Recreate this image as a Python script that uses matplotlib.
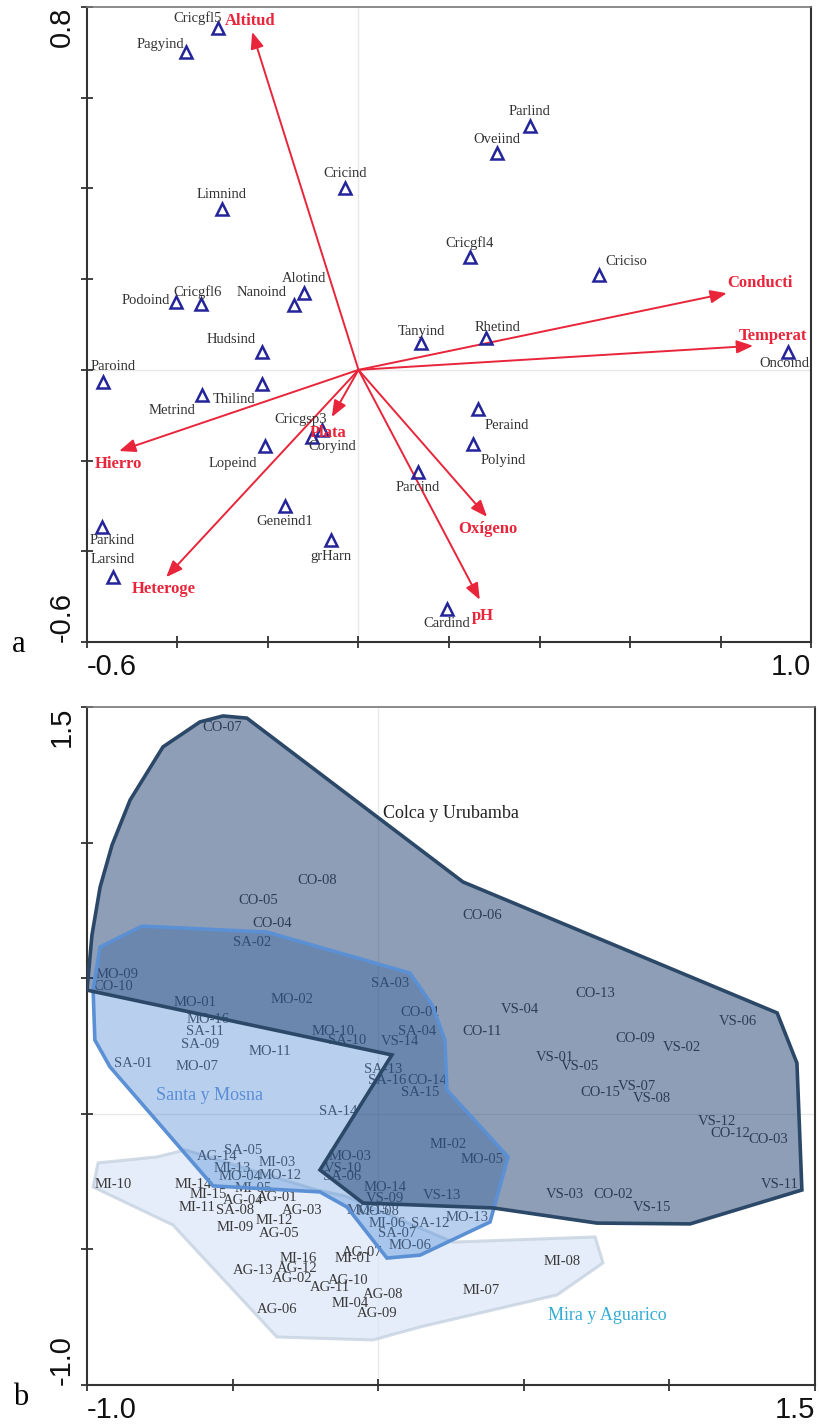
import matplotlib
matplotlib.use("Agg")
import matplotlib.pyplot as plt
from matplotlib.patches import Polygon
import numpy as np

# ---- panel a: species scores and environmental vectors ----
species = ['Cricgfl5', 'Pagyind', 'Limnind', 'Cricind', 'Alotind', 'Nanoind',
           'Cricgfl6', 'Podoind', 'Parlind', 'Oveiind', 'Cricgfl4', 'Criciso',
           'Hudsind', 'Paroind', 'Metrind', 'Thilind', 'Cricgsp3', 'Coryind',
           'Lopeind', 'Parcind', 'Geneind1', 'grHarn', 'Parkind', 'Larsind',
           'Tanyind', 'Rhetind', 'Oncoind', 'Peraind', 'Polyind', 'Cardind']
sp_x = [-0.310, -0.381, -0.302, -0.030, -0.120, -0.143,
        -0.348, -0.403, 0.379, 0.306, 0.246, 0.531,
        -0.213, -0.565, -0.346, -0.213, -0.081, -0.103,
        -0.207, 0.131, -0.162, -0.061, -0.567, -0.543,
        0.138, 0.282, 0.949, 0.264, 0.253, 0.196]
sp_y = [0.754, 0.701, 0.355, 0.401, 0.169, 0.143,
        0.145, 0.150, 0.538, 0.478, 0.249, 0.209,
        0.039, -0.027, -0.055, -0.031, -0.133, -0.148,
        -0.168, -0.225, -0.300, -0.375, -0.346, -0.457,
        0.059, 0.070, 0.039, -0.086, -0.163, -0.527]

env = ['Altitud', 'Conducti', 'Temperat', 'Hierro', 'Heteroge', 'Plata',
       'Oxígeno', 'pH']
env_x = [-0.235, 0.814, 0.872, -0.529, -0.425, -0.059, 0.284, 0.268]
env_y = [0.745, 0.169, 0.053, -0.179, -0.457, -0.104, -0.324, -0.507]

# ---- panel b: sites and basin groups ----
sites = ['CO-07', 'CO-08', 'CO-05', 'CO-04', 'SA-02', 'MO-09', 'CO-10',
         'MO-01', 'MO-02', 'SA-03', 'CO-01', 'MO-16', 'SA-11', 'SA-09',
         'MO-10', 'SA-10', 'SA-04', 'VS-14', 'MO-11', 'SA-01', 'MO-07',
         'SA-13', 'SA-16', 'CO-14', 'SA-15', 'SA-14', 'AG-14', 'SA-05',
         'MI-13', 'MI-03', 'MO-04', 'MO-12', 'MI-10', 'MI-14', 'MI-05',
         'MI-15', 'AG-04', 'AG-01', 'MI-11', 'SA-08', 'AG-03', 'MI-12',
         'MI-09', 'AG-05', 'MO-03', 'VS-10', 'SA-06', 'MO-14', 'VS-09',
         'MO-15', 'MO-08', 'MI-06', 'SA-07', 'MO-06', 'SA-12', 'AG-07',
         'MI-01', 'MI-16', 'AG-13', 'AG-12', 'AG-02', 'AG-10', 'AG-11',
         'AG-08', 'MI-04', 'AG-09', 'AG-06', 'CO-06', 'CO-13', 'VS-04',
         'CO-11', 'VS-06', 'CO-09', 'VS-02', 'VS-01', 'VS-05', 'CO-15',
         'VS-07', 'VS-08', 'VS-12', 'CO-12', 'CO-03', 'MI-02', 'MO-05',
         'VS-13', 'VS-03', 'CO-02', 'VS-15', 'VS-11', 'MO-13', 'MI-08',
         'MI-07']
site_x = [-0.536, -0.210, -0.413, -0.365, -0.433, -0.897, -0.911,
          -0.629, -0.296, 0.041, 0.144, -0.585, -0.595, -0.612,
          -0.155, -0.107, 0.133, 0.075, -0.372, -0.842, -0.622,
          0.016, 0.030, 0.168, 0.144, -0.138, -0.554, -0.464,
          -0.502, -0.348, -0.475, -0.337, -0.911, -0.636, -0.430,
          -0.585, -0.464, -0.348, -0.622, -0.492, -0.262, -0.358,
          -0.492, -0.341, -0.097, -0.121, -0.124, 0.023, 0.023,
          -0.035, -0.001, 0.030, 0.065, 0.109, 0.178, -0.056,
          -0.087, -0.275, -0.430, -0.279, -0.296, -0.104, -0.166,
          0.016, -0.097, -0.004, -0.348, 0.356, 0.745, 0.487,
          0.356, 1.236, 0.882, 1.043, 0.607, 0.693, 0.762,
          0.889, 0.940, 1.163, 1.208, 1.339, 0.240, 0.356,
          0.219, 0.641, 0.806, 0.940, 1.380, 0.305, 0.631,
          0.353]
site_y = [1.423, 0.862, 0.788, 0.703, 0.630, 0.512, 0.468,
          0.409, 0.420, 0.482, 0.372, 0.346, 0.302, 0.257,
          0.305, 0.272, 0.302, 0.265, 0.228, 0.184, 0.173,
          0.162, 0.121, 0.121, 0.080, 0.010, -0.159, -0.134,
          -0.200, -0.181, -0.233, -0.226, -0.259, -0.259, -0.277,
          -0.299, -0.318, -0.307, -0.344, -0.355, -0.355, -0.392,
          -0.421, -0.443, -0.159, -0.200, -0.233, -0.270, -0.311,
          -0.355, -0.362, -0.403, -0.440, -0.484, -0.403, -0.510,
          -0.532, -0.532, -0.576, -0.569, -0.609, -0.613, -0.642,
          -0.668, -0.698, -0.738, -0.723, 0.733, 0.445, 0.383,
          0.302, 0.342, 0.279, 0.243, 0.209, 0.176, 0.080,
          0.099, 0.055, -0.030, -0.071, -0.093, -0.115, -0.167,
          -0.303, -0.299, -0.299, -0.344, -0.259, -0.381, -0.543,
          -0.650]

# group outlines (hand-drawn envelopes)
colca_x = [-1.000, -0.983, -0.955, -0.914, -0.852, -0.739, -0.612, -0.533,
           -0.451, 0.291, 1.370, 1.438, 1.455, 1.071, 0.751, 0.394,
           -0.052, -0.200, 0.047]
colca_y = [0.456, 0.659, 0.836, 0.991, 1.157, 1.353, 1.445, 1.467,
           1.459, 0.855, 0.372, 0.187, -0.281, -0.406, -0.403, -0.347,
           -0.329, -0.207, 0.217]
santa_x = [-0.955, -0.811, -0.382, 0.109, 0.185, 0.229, 0.236, 0.446,
           0.384, 0.144, 0.030, -0.107, -0.200, -0.567, -0.921, -0.973,
           -0.979]
santa_y = [0.615, 0.692, 0.670, 0.519, 0.401, 0.272, 0.088, -0.159,
           -0.399, -0.521, -0.532, -0.344, -0.288, -0.266, 0.173, 0.272,
           0.456]
mira_x = [-0.979, -0.962, -0.760, -0.663, -0.210, -0.114, 0.257, 0.745,
          0.772, 0.614, 0.144, -0.018, -0.348, -0.705]
mira_y = [-0.270, -0.181, -0.159, -0.133, -0.281, -0.303, -0.473, -0.454,
          -0.550, -0.668, -0.786, -0.834, -0.823, -0.410]

groups = ['Colca y Urubamba', 'Santa y Mosna', 'Mira y Aguarico']

# label offsets in pixels (dx, dy) from each marker / arrow tip
sp_off = [(-21, 10), (-26, 7), (0, 14), (0, 14), (0, 15), (-32, 12),
          (-3, 12), (-30, 1), (0, 14), (0, 14), (0, 14), (28, 14),
          (-31, 13), (10, 16), (-30, -16), (-28, -16), (-21, 11), (20, -10),
          (-32, -17), (0, -16), (0, -16), (0, -17), (10, -14), (0, 18),
          (0, 12), (11, 11), (-4, -11), (29, -17), (30, -17), (0, -15)]
env_off = [(-2, 11), (33, 10), (20, 10), (-1, -13), (-2, -12), (-4, -16),
           (1, -12), (3, -16)]

SERIF = ['Liberation Serif', 'DejaVu Serif']
SANS = ['Liberation Sans', 'DejaVu Sans']
RED = '#e8253a'
SPINE = '#333333'


def style_axes(ax, xt, yt):
    for s in ax.spines.values():
        s.set_color(SPINE)
        s.set_linewidth(1.5)
    ax.spines['top'].set_color('#777777')
    ax.spines['top'].set_linewidth(1.2)
    ax.set_xticks(xt)
    ax.set_yticks(yt)
    ax.set_xticklabels([f'{xt[0]:.1f}'] + [''] * (len(xt) - 2) + [f'{xt[-1]:.1f}'])
    ax.set_yticklabels([f'{yt[0]:.1f}'] + [''] * (len(yt) - 2) + [f'{yt[-1]:.1f}'])
    ax.tick_params(direction='inout', length=9, width=1.3, color=SPINE,
                   labelsize=21, pad=3.5)
    for lab in ax.get_xticklabels() + ax.get_yticklabels():
        lab.set_family(SANS)
        lab.set_color('#111111')
    xl = ax.get_xticklabels()
    xl[0].set_ha('left')
    xl[-1].set_ha('right')
    yl = ax.get_yticklabels()
    for lab in yl:
        lab.set_rotation(90)
        lab.set_ha('right')
    yl[0].set_va('bottom')
    yl[-1].set_va('top')
    ax.axhline(0, color='#e8e8e8', lw=1, zorder=0)
    ax.axvline(0, color='#e8e8e8', lw=1, zorder=0)


fig = plt.figure(figsize=(8.19, 14.25), dpi=100)

# panel a
ax1 = fig.add_axes([87 / 819, 1 - 642 / 1425, 724 / 819, 635 / 1425])
ax1.set_xlim(-0.6, 1.0)
ax1.set_ylim(-0.6, 0.8)
style_axes(ax1, np.round(np.arange(-0.6, 1.01, 0.2), 1),
           np.round(np.arange(-0.6, 0.81, 0.2), 1))

for name, x, y, (dx, dy) in zip(env, env_x, env_y, env_off):
    ax1.annotate('', xy=(x, y), xytext=(0, 0),
                 arrowprops=dict(arrowstyle='-|>,head_length=0.55,head_width=0.22',
                                 color=RED, lw=1.4, mutation_scale=18,
                                 shrinkA=0, shrinkB=0), zorder=2)
    ax1.annotate(name, xy=(x, y), xytext=(dx, dy), textcoords='offset pixels',
                 ha='center', va='center', family=SERIF, fontweight='bold',
                 fontsize=12, color=RED, zorder=4)

ax1.plot(sp_x, sp_y, ls='none', marker='^', ms=8.5, mfc='none', mec='#24249a',
         mew=1.8, zorder=3)
for name, x, y, (dx, dy) in zip(species, sp_x, sp_y, sp_off):
    ax1.annotate(name, xy=(x, y), xytext=(dx, dy), textcoords='offset pixels',
                 ha='center', va='center', family=SERIF, fontsize=10.5,
                 color='#333333', zorder=4)

# panel b
ax2 = fig.add_axes([87 / 819, 1 - 1385 / 1425, 728 / 819, 678 / 1425])
ax2.set_xlim(-1.0, 1.5)
ax2.set_ylim(-1.0, 1.5)
style_axes(ax2, np.round(np.arange(-1.0, 1.51, 0.5), 1),
           np.round(np.arange(-1.0, 1.51, 0.5), 1))

ax2.add_patch(Polygon(np.column_stack([mira_x, mira_y]), closed=True,
                      fc='#dbe8f7', ec='#c3d0df', lw=2.2, alpha=0.75, zorder=0.5))
ax2.add_patch(Polygon(np.column_stack([santa_x, santa_y]), closed=True,
                      fc='#4f8ad6', ec='none', alpha=0.4, zorder=2))
ax2.add_patch(Polygon(np.column_stack([colca_x, colca_y]), closed=True,
                      fc='#1f3f6e', ec='none', alpha=0.5, zorder=2.1))
ax2.add_patch(Polygon(np.column_stack([santa_x, santa_y]), closed=True,
                      fc='none', ec='#5b90d4', lw=2.6, zorder=3))
ax2.add_patch(Polygon(np.column_stack([colca_x, colca_y]), closed=True,
                      fc='none', ec='#2c4868', lw=2.6, zorder=3.1))

for name, x, y in zip(sites, site_x, site_y):
    ax2.text(x, y, name, ha='center', va='center', family=SERIF,
             fontsize=10.5, color='#3a3a3a', zorder=1)

ax2.text(0.250, 1.109, groups[0], ha='center', va='center', family=SERIF,
         fontsize=13, color='#222222', zorder=4)
ax2.text(-0.578, 0.069, groups[1], ha='center', va='center', family=SERIF,
         fontsize=13, color='#5a8ed6', zorder=4)
ax2.text(0.786, -0.742, groups[2], ha='center', va='center', family=SERIF,
         fontsize=13, color='#35acd6', zorder=4)

fig.text(12 / 819, 1 - 652 / 1425, 'a', family=SERIF, fontsize=22,
         va='baseline', ha='left')
fig.text(13 / 819, 1 - 1405 / 1425, 'b', family=SERIF, fontsize=22,
         va='baseline', ha='left')

fig.savefig('out.png', dpi=100)
